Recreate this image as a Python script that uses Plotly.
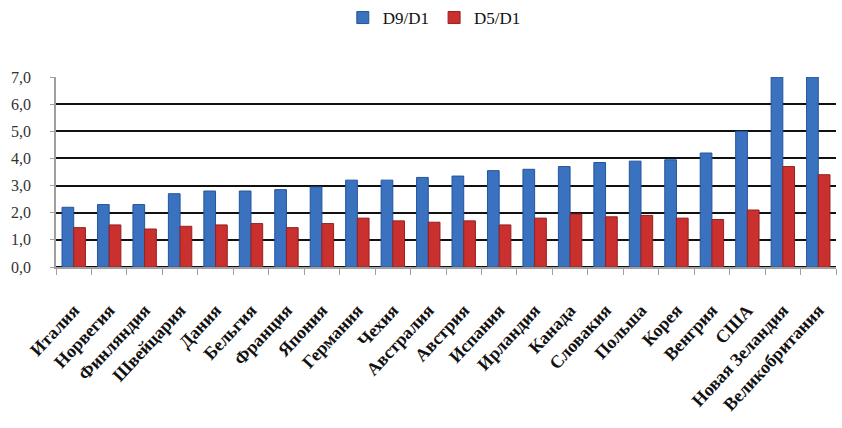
import plotly.graph_objects as go

countries = ["Италия", "Норвегия", "Финляндия", "Швейцария", "Дания", "Бельгия",
             "Франция", "Япония", "Германия", "Чехия", "Австралия", "Австрия",
             "Испания", "Ирландия", "Канада", "Словакия", "Польша", "Корея",
             "Венгрия", "США", "Новая Зеландия", "Великобритания"]
d9_d1 = [2.2, 2.3, 2.3, 2.7, 2.8, 2.8, 2.85, 2.95, 3.2, 3.2, 3.3, 3.35,
         3.55, 3.6, 3.7, 3.85, 3.9, 3.95, 4.2, 5.0, 7.0, 7.0]
d5_d1 = [1.45, 1.55, 1.4, 1.5, 1.55, 1.6, 1.45, 1.6, 1.8, 1.7, 1.65, 1.7,
         1.55, 1.8, 1.95, 1.85, 1.9, 1.8, 1.75, 2.1, 3.7, 3.4]
y_ticks = [0, 1, 2, 3, 4, 5, 6, 7]

serif = "Liberation Serif"

fig = go.Figure()
fig.add_trace(go.Bar(
    x=countries, y=d9_d1, name="D9/D1",
    marker=dict(color="#3A72C0", line=dict(color="#24549A", width=1)),
))
fig.add_trace(go.Bar(
    x=countries, y=d5_d1, name="D5/D1",
    marker=dict(color="#C9302E", line=dict(color="#962020", width=1)),
))

fig.update_layout(
    width=842, height=428,
    margin=dict(l=56, r=6, t=77, b=161),
    paper_bgcolor="white", plot_bgcolor="white",
    barmode="group", bargap=0.34, bargroupgap=0.0,
    separators=", ",
    font=dict(family=serif, color="#111"),
    legend=dict(
        orientation="h", x=0.485, xanchor="center",
        y=1.0, yref="container", yanchor="top",
        font=dict(family=serif, size=17, color="#111"),
        itemwidth=30, traceorder="normal",
    ),
    xaxis=dict(
        type="category", tickangle=-47,
        tickfont=dict(family=serif, size=18, color="#111", weight="bold"),
        ticklabelstandoff=24,
        showline=True, linecolor="#A0A0A0", linewidth=1.5,
        ticks="outside", ticklen=6, tickcolor="#A0A0A0", tickson="boundaries",
        showgrid=False,
    ),
    yaxis=dict(
        range=[0, 7], tickvals=y_ticks, tickformat=".1f",
        tickfont=dict(family=serif, size=16, color="#333"),
        ticklabelstandoff=16,
        showline=True, linecolor="#A0A0A0", linewidth=1.5,
        ticks="outside", ticklen=4, tickcolor="#A0A0A0",
        showgrid=True, gridcolor="#111", gridwidth=2,
        zeroline=True, zerolinecolor="#111", zerolinewidth=2,
    ),
)

fig.write_html("out.html")
